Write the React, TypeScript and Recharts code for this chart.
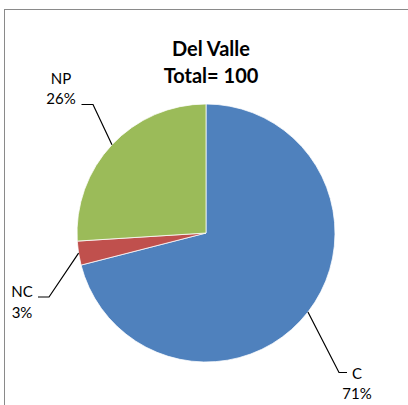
import React from "react";
import { PieChart, Pie, Cell } from "recharts";

const categories = ["C", "NC", "NP"];
const values = [71, 3, 26];
const colors = ["#4F81BD", "#C0504D", "#9BBB59"];
const titleLines = ["Del Valle", "Total= 100"];

const data = categories.map((name, i) => ({ name, value: values[i] }));

// label layout offsets relative to pie centre (elbow point, line end, text centre, baselines)
const labelLayout: Record<string, { ex: number; ey: number; lx: number; tx: number; b1: number; b2: number }> = {
  NP: { ex: -113, ey: -128.5, lx: -124.5, tx: -145, b1: -149, b2: -129.5 },
  NC: { ex: -157, ey: 64, lx: -168, tx: -184, b1: 64, b2: 85 },
  C: { ex: 133, ey: 139.5, lx: 141, tx: 151, b1: 146, b2: 166 },
};

const RAD = Math.PI / 180;
const FONT = "Lato, 'Open Sans', sans-serif";

const renderLabel = (props: any) => {
  const { cx, cy, midAngle, outerRadius, name, percent } = props;
  const L = labelLayout[name];
  if (!L) return null;
  const sx = cx + outerRadius * Math.cos(-midAngle * RAD);
  const sy = cy + outerRadius * Math.sin(-midAngle * RAD);
  const pts = `${sx},${sy} ${cx + L.ex},${cy + L.ey} ${cx + L.lx},${cy + L.ey}`;
  return (
    <g key={`lbl-${name}`}>
      <polyline points={pts} fill="none" stroke="#000" strokeWidth={1.2} />
      <text x={cx + L.tx} y={cy + L.b1} textAnchor="middle" fontFamily={FONT} fontSize={15} fill="#000">
        {name}
      </text>
      <text x={cx + L.tx} y={cy + L.b2} textAnchor="middle" fontFamily={FONT} fontSize={15} fill="#000">
        {`${Math.round(percent * 100)}%`}
      </text>
    </g>
  );
};

export default function App() {
  return (
    <div style={{ position: "absolute", left: 0, top: 0, width: 408, height: 405, overflow: "hidden", background: "#fff" }}>
      <div
        style={{
          position: "absolute",
          left: 4,
          top: 9,
          width: 440,
          height: 440,
          border: "1.5px solid #8a8a8a",
          boxSizing: "border-box",
        }}
      />
      <svg style={{ position: "absolute", left: 0, top: 0 }} width={408} height={405}>
        {titleLines.map((t, i) => (
          <text
            key={t}
            x={211}
            y={56 + i * 26.5}
            textAnchor="middle"
            fontFamily={FONT}
            fontWeight="bold"
            fontSize={20}
            fill="#000"
          >
            {t}
          </text>
        ))}
      </svg>
      <div style={{ position: "absolute", left: 0, top: 0 }}>
        <PieChart width={408} height={405} margin={{ top: 0, right: 0, bottom: 0, left: 0 }}>
          <Pie
            data={data}
            dataKey="value"
            nameKey="name"
            cx={206}
            cy={233}
            outerRadius={129}
            startAngle={90}
            endAngle={-270}
            stroke="#fff"
            strokeWidth={0.75}
            label={renderLabel}
            labelLine={false}
            isAnimationActive={false}
          >
            {data.map((d, i) => (
              <Cell key={d.name} fill={colors[i]} />
            ))}
          </Pie>
        </PieChart>
      </div>
    </div>
  );
}
